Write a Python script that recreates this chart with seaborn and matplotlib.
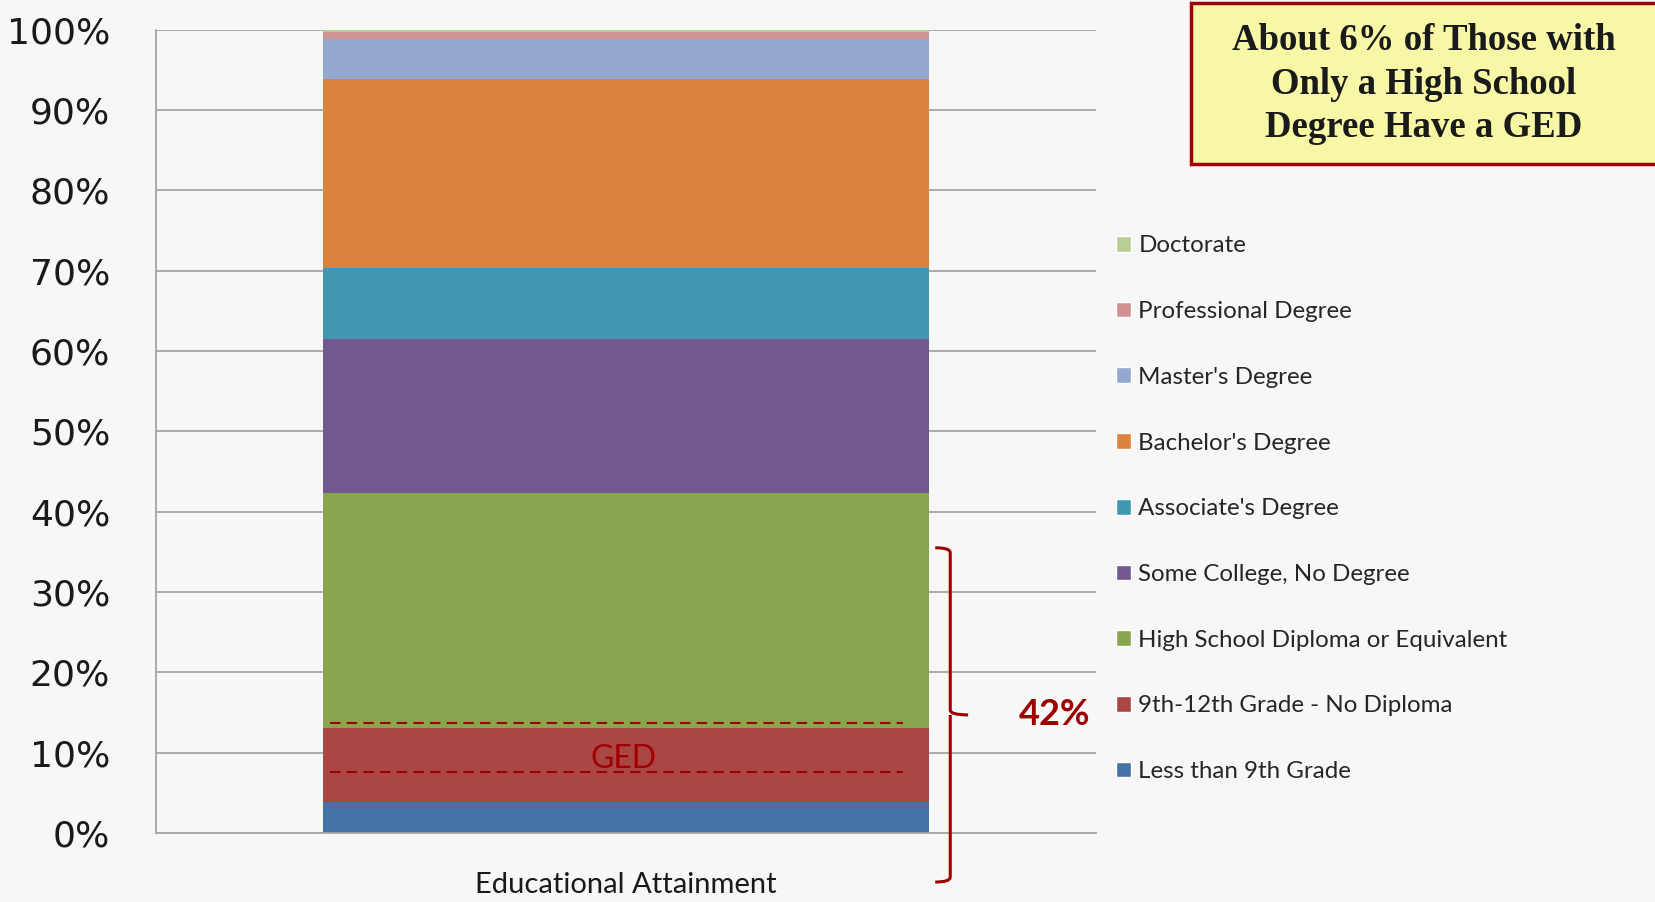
import matplotlib
matplotlib.use('Agg')
from matplotlib import pyplot as plt
from matplotlib.patches import Patch, Rectangle, PathPatch
from matplotlib.path import Path
from matplotlib.ticker import FuncFormatter
import pandas as pd
import seaborn as sns

# data (percent of population, bottom to top)
categories = [
    "Less than 9th Grade",
    "9th-12th Grade - No Diploma",
    "High School Diploma or Equivalent",
    "Some College, No Degree",
    "Associate's Degree",
    "Bachelor's Degree",
    "Master's Degree",
    "Professional Degree",
    "Doctorate",
]
shares = [3.8, 9.3, 29.2, 19.2, 8.8, 23.6, 4.9, 0.9, 0.3]
colors = ["#4572A7", "#AA4643", "#89A54E", "#71588F", "#4198AF",
          "#DB843D", "#93A9CF", "#D19392", "#B9CD96"]
group = "Educational Attainment"
ged_low, ged_high = 7.6, 13.7
bracket_label = "42%"
title = "About 6% of Those with\nOnly a High School\nDegree Have a GED"

bg = "#F7F7F7"
dark_red = "#9E0000"

sns.set_style("white")
plt.rcParams['font.family'] = ['Lato', 'DejaVu Sans']

fig = plt.figure(figsize=(16.56, 9.02), dpi=100, facecolor=bg)
ax = fig.add_axes([0.0942, 0.0765, 0.5676, 0.8907])
ax.set_facecolor(bg)

table = pd.DataFrame({"category": categories, "share": shares, "color": colors})
table["top"] = table["share"].cumsum()

# stacked bar: draw cumulative totals from the top down
for _, row in table[::-1].iterrows():
    sns.barplot(x=[group], y=[row["top"]], color=row["color"], saturation=1,
                width=0.645, ax=ax, linewidth=0)

ax.set_axisbelow(True)
ax.set_ylim(0, 100)
ax.set_xlim(-0.5, 0.5)
ax.set_yticks(range(0, 101, 10))
ax.yaxis.set_major_formatter(FuncFormatter(lambda v, p: f"{v:.0f}%"))
ax.yaxis.grid(True, color="#A6A6A6", lw=1.3)
for s in ["top", "right"]:
    ax.spines[s].set_visible(False)
for s in ["left", "bottom"]:
    ax.spines[s].set_color("#A6A6A6")
    ax.spines[s].set_linewidth(1.3)
ax.tick_params(axis='y', length=0, pad=33, labelsize=26, labelcolor="#1a1a1a")
ax.tick_params(axis='x', length=0, pad=28, labelsize=21, labelcolor="#1a1a1a")
for t in ax.get_yticklabels():
    t.set_fontfamily('DejaVu Sans')
ax.set_xlabel("")
ax.set_ylabel("")

# GED band
for lvl in [ged_low, ged_high]:
    ax.plot([-0.315, 0.295], [lvl, lvl], color=dark_red, lw=1.5,
            dashes=(5, 3), zorder=5)
ax.text(-0.003, (ged_low + ged_high) / 2 - 1.4, "GED", color="#A00000",
        fontsize=23, ha='center', va='center', zorder=6)

# curly bracket over the 42%
x0, xe, xt = 0.345, 0.329, 0.364
top, bot, mid = 35.5, -6.1, 14.7
verts = [(xe, top), (x0, top), (x0, top - 0.6),
         (x0, mid + 0.6), (x0, mid), (xt, mid),
         (x0, mid), (x0, mid - 0.6),
         (x0, bot + 0.6), (x0, bot), (xe, bot)]
codes = [Path.MOVETO, Path.CURVE3, Path.CURVE3,
         Path.LINETO, Path.CURVE3, Path.CURVE3,
         Path.MOVETO, Path.LINETO,
         Path.LINETO, Path.CURVE3, Path.CURVE3]
ax.add_patch(PathPatch(Path(verts, codes), facecolor='none', edgecolor=dark_red,
                       lw=2.2, clip_on=False, zorder=6))
ax.text(0.456, mid, bracket_label, color=dark_red, fontsize=26,
        fontweight='bold', ha='center', va='center', clip_on=False)

# legend (top category first)
handles = [Patch(facecolor=c, label=l) for l, c in zip(categories[::-1], colors[::-1])]
leg = fig.legend(handles=handles, loc='center left', bbox_to_anchor=(0.674, 0.436),
                 frameon=False, fontsize=17.4, handlelength=0.62, handleheight=0.62,
                 handletextpad=0.3, labelspacing=1.85, borderpad=0, borderaxespad=0)
for t in leg.get_texts():
    t.set_color("#262626")

# title box
fig.patches.append(Rectangle((1191 / 1656, 1 - 164 / 902), 0.3, 161 / 902,
                             transform=fig.transFigure, facecolor="#F7F7A6",
                             edgecolor=dark_red, lw=2.5, zorder=1))
fig.text(1424 / 1656, 1 - 84 / 902, title, ha='center', va='center',
         fontsize=26.5, fontweight='bold', family='Liberation Serif',
         linespacing=1.31, color="#1a1a1a", zorder=2)

fig.savefig("out.png", dpi=100, facecolor=bg)
